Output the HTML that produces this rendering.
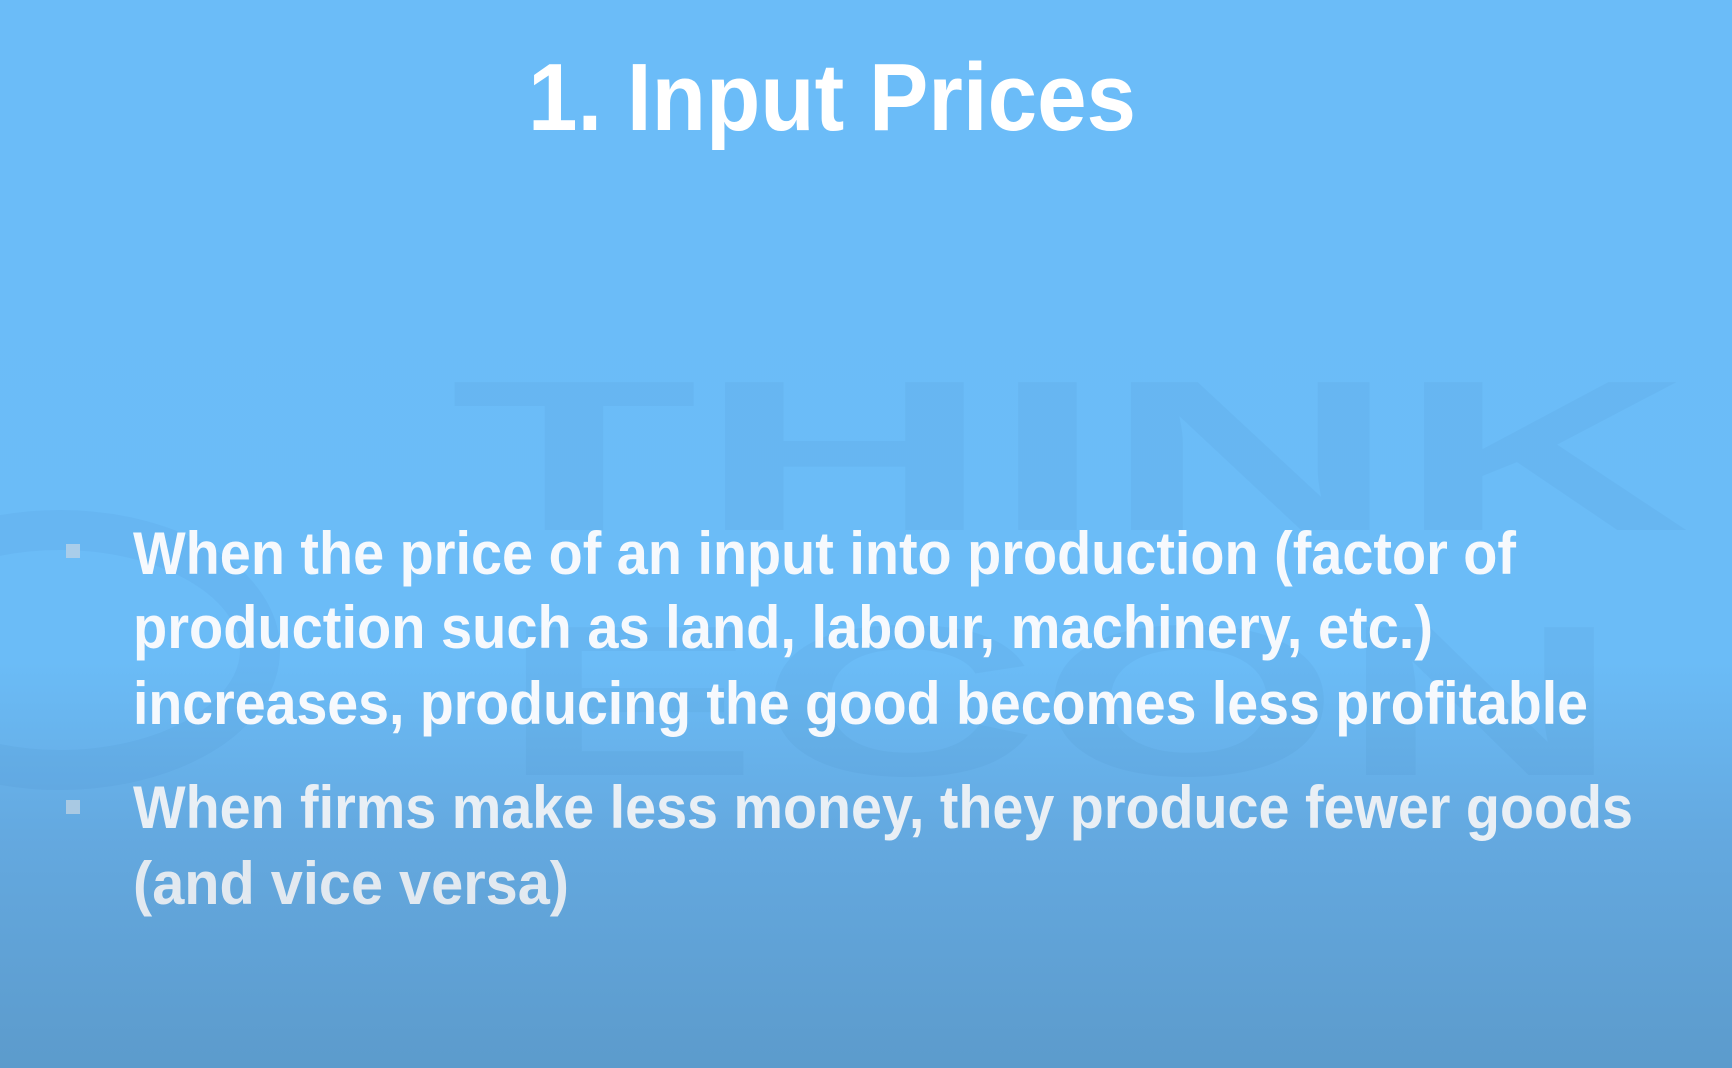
<!DOCTYPE html>
<html><head><meta charset="utf-8"><style>
html,body{margin:0;padding:0;}
body{width:1732px;height:1068px;overflow:hidden;background:linear-gradient(to bottom,#6bbcf8 0%,#6bbcf7 62%,#64a9e0 78%,#5c9bcc 100%);font-family:"Liberation Sans",sans-serif;}
svg{position:absolute;left:0;top:0;}
</style></head><body>
<svg width="1732" height="1068" viewBox="0 0 1732 1068">
  <g opacity="0.045" fill="#1d4f80">
    <text x="450" y="530" font-size="215" font-weight="bold" textLength="1240" lengthAdjust="spacingAndGlyphs">THINK</text>
    <text x="500" y="775" font-size="215" font-weight="bold" textLength="1120" lengthAdjust="spacingAndGlyphs">ECON</text>
    <ellipse cx="60" cy="650" rx="200" ry="120" fill="none" stroke="#1d4f80" stroke-width="40"/>
  </g>
  <text x="528" y="130" font-size="96" font-weight="bold" fill="#ffffff" textLength="608" lengthAdjust="spacingAndGlyphs">1. Input Prices</text>
  <g font-size="60" font-weight="bold" fill="#f6f9fd">
    <rect x="66" y="544" width="14" height="14" fill="#a9cdea"/>
    <text x="133" y="574" textLength="1383" lengthAdjust="spacingAndGlyphs">When the price of an input into production (factor of</text>
    <text x="133" y="648" textLength="1300" lengthAdjust="spacingAndGlyphs">production such as land, labour, machinery, etc.)</text>
    <text x="133" y="724" textLength="1455" lengthAdjust="spacingAndGlyphs">increases, producing the good becomes less profitable</text>
    <rect x="66" y="800" width="14" height="14" fill="#a9c9e3"/>
    <text x="133" y="828" textLength="1500" lengthAdjust="spacingAndGlyphs" fill="#e9eff5">When firms make less money, they produce fewer goods</text>
    <text x="133" y="904" textLength="436" lengthAdjust="spacingAndGlyphs" fill="#e2e9f0">(and vice versa)</text>
  </g>
</svg>
</body></html>
